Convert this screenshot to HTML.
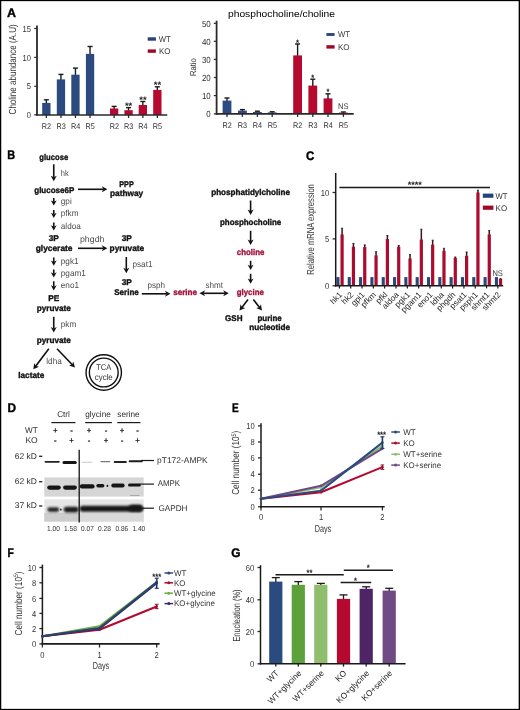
<!DOCTYPE html>
<html><head><meta charset="utf-8"><title>Figure</title>
<style>html,body{margin:0;padding:0;background:#fff}svg{display:block}text{font-family:"Liberation Sans",sans-serif;text-rendering:geometricPrecision}</style></head><body>
<svg width="520" height="710" viewBox="0 0 520 710">
<rect x="0" y="0" width="520" height="710" fill="#fff"/>
<text x="7.00" y="16.70" font-size="12.4" text-anchor="start" font-weight="bold" fill="#000" textLength="9.00" lengthAdjust="spacingAndGlyphs" stroke="#000" stroke-width="0.4">A</text>
<text x="16.20" y="69.40" font-size="10.2" text-anchor="middle" fill="#333" textLength="90.00" lengthAdjust="spacingAndGlyphs" transform="rotate(-90 16.20 69.40)">Choline abundance (A.U)</text>
<line x1="34.20" y1="28.50" x2="37.00" y2="28.50" stroke="#2a2a2a" stroke-width="1.2"/>
<text x="31.00" y="31.60" font-size="8.6" text-anchor="end" fill="#333" textLength="8.42" lengthAdjust="spacingAndGlyphs">15</text>
<line x1="34.20" y1="57.40" x2="37.00" y2="57.40" stroke="#2a2a2a" stroke-width="1.2"/>
<text x="31.00" y="60.50" font-size="8.6" text-anchor="end" fill="#333" textLength="8.42" lengthAdjust="spacingAndGlyphs">10</text>
<line x1="34.20" y1="86.30" x2="37.00" y2="86.30" stroke="#2a2a2a" stroke-width="1.2"/>
<text x="31.00" y="89.40" font-size="8.6" text-anchor="end" fill="#333" textLength="4.21" lengthAdjust="spacingAndGlyphs">5</text>
<line x1="34.20" y1="114.80" x2="37.00" y2="114.80" stroke="#2a2a2a" stroke-width="1.2"/>
<text x="31.00" y="117.90" font-size="8.6" text-anchor="end" fill="#333" textLength="4.21" lengthAdjust="spacingAndGlyphs">0</text>
<line x1="46.35" y1="99.80" x2="46.35" y2="103.40" stroke="#1a1a1a" stroke-width="1.4"/>
<line x1="43.85" y1="99.80" x2="48.85" y2="99.80" stroke="#1a1a1a" stroke-width="1.4"/>
<rect x="42.20" y="102.90" width="8.30" height="12.10" fill="#2b4a80"/>
<line x1="46.35" y1="115.00" x2="46.35" y2="118.00" stroke="#2a2a2a" stroke-width="1.3"/>
<text x="46.50" y="128.50" font-size="8.2" text-anchor="middle" fill="#333" textLength="9.30" lengthAdjust="spacingAndGlyphs">R2</text>
<line x1="60.95" y1="74.40" x2="60.95" y2="79.90" stroke="#1a1a1a" stroke-width="1.4"/>
<line x1="58.45" y1="74.40" x2="63.45" y2="74.40" stroke="#1a1a1a" stroke-width="1.4"/>
<rect x="56.80" y="79.40" width="8.30" height="35.60" fill="#2b4a80"/>
<line x1="60.95" y1="115.00" x2="60.95" y2="118.00" stroke="#2a2a2a" stroke-width="1.3"/>
<text x="61.10" y="128.50" font-size="8.2" text-anchor="middle" fill="#333" textLength="9.30" lengthAdjust="spacingAndGlyphs">R3</text>
<line x1="75.45" y1="68.10" x2="75.45" y2="75.20" stroke="#1a1a1a" stroke-width="1.4"/>
<line x1="72.95" y1="68.10" x2="77.95" y2="68.10" stroke="#1a1a1a" stroke-width="1.4"/>
<rect x="71.30" y="74.70" width="8.30" height="40.30" fill="#2b4a80"/>
<line x1="75.45" y1="115.00" x2="75.45" y2="118.00" stroke="#2a2a2a" stroke-width="1.3"/>
<text x="75.60" y="128.50" font-size="8.2" text-anchor="middle" fill="#333" textLength="9.30" lengthAdjust="spacingAndGlyphs">R4</text>
<line x1="90.05" y1="46.50" x2="90.05" y2="54.40" stroke="#1a1a1a" stroke-width="1.4"/>
<line x1="87.55" y1="46.50" x2="92.55" y2="46.50" stroke="#1a1a1a" stroke-width="1.4"/>
<rect x="85.90" y="53.90" width="8.30" height="61.10" fill="#2b4a80"/>
<line x1="90.05" y1="115.00" x2="90.05" y2="118.00" stroke="#2a2a2a" stroke-width="1.3"/>
<text x="90.20" y="128.50" font-size="8.2" text-anchor="middle" fill="#333" textLength="9.30" lengthAdjust="spacingAndGlyphs">R5</text>
<line x1="114.15" y1="106.40" x2="114.15" y2="109.00" stroke="#1a1a1a" stroke-width="1.4"/>
<line x1="111.65" y1="106.40" x2="116.65" y2="106.40" stroke="#1a1a1a" stroke-width="1.4"/>
<rect x="110.00" y="108.50" width="8.30" height="6.50" fill="#b5092f"/>
<line x1="114.15" y1="115.00" x2="114.15" y2="118.00" stroke="#2a2a2a" stroke-width="1.3"/>
<text x="114.30" y="128.50" font-size="8.2" text-anchor="middle" fill="#333" textLength="9.30" lengthAdjust="spacingAndGlyphs">R2</text>
<line x1="128.55" y1="107.60" x2="128.55" y2="110.70" stroke="#1a1a1a" stroke-width="1.4"/>
<line x1="126.05" y1="107.60" x2="131.05" y2="107.60" stroke="#1a1a1a" stroke-width="1.4"/>
<rect x="124.40" y="110.20" width="8.30" height="4.80" fill="#b5092f"/>
<line x1="128.55" y1="115.00" x2="128.55" y2="118.00" stroke="#2a2a2a" stroke-width="1.3"/>
<text x="128.70" y="128.50" font-size="8.2" text-anchor="middle" fill="#333" textLength="9.30" lengthAdjust="spacingAndGlyphs">R3</text>
<line x1="142.85" y1="101.50" x2="142.85" y2="105.50" stroke="#1a1a1a" stroke-width="1.4"/>
<line x1="140.35" y1="101.50" x2="145.35" y2="101.50" stroke="#1a1a1a" stroke-width="1.4"/>
<rect x="138.70" y="105.00" width="8.30" height="10.00" fill="#b5092f"/>
<line x1="142.85" y1="115.00" x2="142.85" y2="118.00" stroke="#2a2a2a" stroke-width="1.3"/>
<text x="143.00" y="128.50" font-size="8.2" text-anchor="middle" fill="#333" textLength="9.30" lengthAdjust="spacingAndGlyphs">R4</text>
<line x1="157.35" y1="86.80" x2="157.35" y2="90.40" stroke="#1a1a1a" stroke-width="1.4"/>
<line x1="154.85" y1="86.80" x2="159.85" y2="86.80" stroke="#1a1a1a" stroke-width="1.4"/>
<rect x="153.20" y="89.90" width="8.30" height="25.10" fill="#b5092f"/>
<line x1="157.35" y1="115.00" x2="157.35" y2="118.00" stroke="#2a2a2a" stroke-width="1.3"/>
<text x="157.50" y="128.50" font-size="8.2" text-anchor="middle" fill="#333" textLength="9.30" lengthAdjust="spacingAndGlyphs">R5</text>
<text x="128.60" y="108.90" font-size="9.5" text-anchor="middle" font-weight="bold" fill="#231a26" textLength="7.40" lengthAdjust="spacingAndGlyphs">**</text>
<text x="142.90" y="102.90" font-size="9.5" text-anchor="middle" font-weight="bold" fill="#231a26" textLength="7.40" lengthAdjust="spacingAndGlyphs">**</text>
<text x="157.40" y="87.90" font-size="9.5" text-anchor="middle" font-weight="bold" fill="#231a26" textLength="7.40" lengthAdjust="spacingAndGlyphs">**</text>
<line x1="37.00" y1="25.60" x2="37.00" y2="115.80" stroke="#2a2a2a" stroke-width="1.8"/>
<line x1="36.30" y1="115.00" x2="167.30" y2="115.00" stroke="#2a2a2a" stroke-width="1.6"/>
<rect x="147.70" y="37.30" width="8.20" height="3.40" fill="#25427a"/>
<text x="158.80" y="41.80" font-size="8.2" text-anchor="start" fill="#333" textLength="12.00" lengthAdjust="spacingAndGlyphs">WT</text>
<rect x="147.70" y="49.40" width="8.20" height="3.40" fill="#a00829"/>
<text x="159.00" y="53.90" font-size="8.2" text-anchor="start" fill="#333" textLength="11.60" lengthAdjust="spacingAndGlyphs">KO</text>
<text x="228.00" y="16.60" font-size="9.4" text-anchor="start" textLength="107.00" lengthAdjust="spacingAndGlyphs">phosphocholine/choline</text>
<text x="195.80" y="67.20" font-size="8.6" text-anchor="middle" fill="#333" textLength="17.80" lengthAdjust="spacingAndGlyphs" transform="rotate(-90 195.80 67.20)">Ratio</text>
<line x1="213.80" y1="23.30" x2="216.50" y2="23.30" stroke="#2a2a2a" stroke-width="1.2"/>
<text x="210.70" y="26.50" font-size="8.8" text-anchor="end" fill="#2a2a2a" textLength="8.81" lengthAdjust="spacingAndGlyphs">50</text>
<line x1="213.80" y1="41.30" x2="216.50" y2="41.30" stroke="#2a2a2a" stroke-width="1.2"/>
<text x="210.70" y="44.50" font-size="8.8" text-anchor="end" fill="#2a2a2a" textLength="8.81" lengthAdjust="spacingAndGlyphs">40</text>
<line x1="213.80" y1="59.40" x2="216.50" y2="59.40" stroke="#2a2a2a" stroke-width="1.2"/>
<text x="210.70" y="62.60" font-size="8.8" text-anchor="end" fill="#2a2a2a" textLength="8.81" lengthAdjust="spacingAndGlyphs">30</text>
<line x1="213.80" y1="77.50" x2="216.50" y2="77.50" stroke="#2a2a2a" stroke-width="1.2"/>
<text x="210.70" y="80.70" font-size="8.8" text-anchor="end" fill="#2a2a2a" textLength="8.81" lengthAdjust="spacingAndGlyphs">20</text>
<line x1="213.80" y1="95.60" x2="216.50" y2="95.60" stroke="#2a2a2a" stroke-width="1.2"/>
<text x="210.70" y="98.80" font-size="8.8" text-anchor="end" fill="#2a2a2a" textLength="8.81" lengthAdjust="spacingAndGlyphs">10</text>
<line x1="213.80" y1="113.90" x2="216.50" y2="113.90" stroke="#2a2a2a" stroke-width="1.2"/>
<text x="210.70" y="117.10" font-size="8.8" text-anchor="end" fill="#2a2a2a" textLength="4.40" lengthAdjust="spacingAndGlyphs">0</text>
<line x1="227.00" y1="98.00" x2="227.00" y2="101.10" stroke="#1a1a1a" stroke-width="1.4"/>
<line x1="224.50" y1="98.00" x2="229.50" y2="98.00" stroke="#1a1a1a" stroke-width="1.4"/>
<rect x="222.60" y="100.60" width="8.80" height="13.30" fill="#2b4a80"/>
<line x1="227.00" y1="113.90" x2="227.00" y2="116.90" stroke="#2a2a2a" stroke-width="1.3"/>
<text x="227.10" y="128.40" font-size="8.2" text-anchor="middle" fill="#333" textLength="9.30" lengthAdjust="spacingAndGlyphs">R2</text>
<line x1="242.40" y1="109.60" x2="242.40" y2="111.10" stroke="#1a1a1a" stroke-width="1.4"/>
<line x1="239.90" y1="109.60" x2="244.90" y2="109.60" stroke="#1a1a1a" stroke-width="1.4"/>
<rect x="238.00" y="110.60" width="8.80" height="3.30" fill="#2b4a80"/>
<line x1="242.40" y1="113.90" x2="242.40" y2="116.90" stroke="#2a2a2a" stroke-width="1.3"/>
<text x="242.50" y="128.40" font-size="8.2" text-anchor="middle" fill="#333" textLength="9.30" lengthAdjust="spacingAndGlyphs">R3</text>
<line x1="257.40" y1="111.20" x2="257.40" y2="112.50" stroke="#1a1a1a" stroke-width="1.4"/>
<line x1="254.90" y1="111.20" x2="259.90" y2="111.20" stroke="#1a1a1a" stroke-width="1.4"/>
<rect x="253.00" y="112.00" width="8.80" height="1.90" fill="#2b4a80"/>
<line x1="257.40" y1="113.90" x2="257.40" y2="116.90" stroke="#2a2a2a" stroke-width="1.3"/>
<text x="257.50" y="128.40" font-size="8.2" text-anchor="middle" fill="#333" textLength="9.30" lengthAdjust="spacingAndGlyphs">R4</text>
<line x1="272.20" y1="111.80" x2="272.20" y2="112.90" stroke="#1a1a1a" stroke-width="1.4"/>
<line x1="269.70" y1="111.80" x2="274.70" y2="111.80" stroke="#1a1a1a" stroke-width="1.4"/>
<rect x="267.80" y="112.40" width="8.80" height="1.50" fill="#2b4a80"/>
<line x1="272.20" y1="113.90" x2="272.20" y2="116.90" stroke="#2a2a2a" stroke-width="1.3"/>
<text x="272.30" y="128.40" font-size="8.2" text-anchor="middle" fill="#333" textLength="9.30" lengthAdjust="spacingAndGlyphs">R5</text>
<line x1="297.60" y1="44.00" x2="297.60" y2="55.90" stroke="#1a1a1a" stroke-width="1.4"/>
<line x1="295.10" y1="44.00" x2="300.10" y2="44.00" stroke="#1a1a1a" stroke-width="1.4"/>
<rect x="293.20" y="55.40" width="8.80" height="58.50" fill="#b5092f"/>
<line x1="297.60" y1="113.90" x2="297.60" y2="116.90" stroke="#2a2a2a" stroke-width="1.3"/>
<text x="297.70" y="128.40" font-size="8.2" text-anchor="middle" fill="#333" textLength="9.30" lengthAdjust="spacingAndGlyphs">R2</text>
<line x1="312.80" y1="79.20" x2="312.80" y2="86.10" stroke="#1a1a1a" stroke-width="1.4"/>
<line x1="310.30" y1="79.20" x2="315.30" y2="79.20" stroke="#1a1a1a" stroke-width="1.4"/>
<rect x="308.40" y="85.60" width="8.80" height="28.30" fill="#b5092f"/>
<line x1="312.80" y1="113.90" x2="312.80" y2="116.90" stroke="#2a2a2a" stroke-width="1.3"/>
<text x="312.90" y="128.40" font-size="8.2" text-anchor="middle" fill="#333" textLength="9.30" lengthAdjust="spacingAndGlyphs">R3</text>
<line x1="328.00" y1="93.80" x2="328.00" y2="98.90" stroke="#1a1a1a" stroke-width="1.4"/>
<line x1="325.50" y1="93.80" x2="330.50" y2="93.80" stroke="#1a1a1a" stroke-width="1.4"/>
<rect x="323.60" y="98.40" width="8.80" height="15.50" fill="#b5092f"/>
<line x1="328.00" y1="113.90" x2="328.00" y2="116.90" stroke="#2a2a2a" stroke-width="1.3"/>
<text x="328.10" y="128.40" font-size="8.2" text-anchor="middle" fill="#333" textLength="9.30" lengthAdjust="spacingAndGlyphs">R4</text>
<line x1="343.40" y1="112.00" x2="343.40" y2="113.10" stroke="#1a1a1a" stroke-width="1.4"/>
<line x1="340.90" y1="112.00" x2="345.90" y2="112.00" stroke="#1a1a1a" stroke-width="1.4"/>
<rect x="339.00" y="112.60" width="8.80" height="1.30" fill="#b5092f"/>
<line x1="343.40" y1="113.90" x2="343.40" y2="116.90" stroke="#2a2a2a" stroke-width="1.3"/>
<text x="343.50" y="128.40" font-size="8.2" text-anchor="middle" fill="#333" textLength="9.30" lengthAdjust="spacingAndGlyphs">R5</text>
<text x="297.60" y="45.70" font-size="9.5" text-anchor="middle" font-weight="bold" fill="#231a26" textLength="2.96" lengthAdjust="spacingAndGlyphs">*</text>
<text x="312.80" y="80.70" font-size="9.5" text-anchor="middle" font-weight="bold" fill="#231a26" textLength="2.96" lengthAdjust="spacingAndGlyphs">*</text>
<text x="328.00" y="95.40" font-size="9.5" text-anchor="middle" font-weight="bold" fill="#231a26" textLength="2.96" lengthAdjust="spacingAndGlyphs">*</text>
<text x="343.20" y="108.90" font-size="8.2" text-anchor="middle" fill="#333" textLength="10.40" lengthAdjust="spacingAndGlyphs">NS</text>
<line x1="216.60" y1="20.70" x2="216.60" y2="114.70" stroke="#2a2a2a" stroke-width="1.8"/>
<line x1="215.80" y1="113.90" x2="353.70" y2="113.90" stroke="#2a2a2a" stroke-width="1.6"/>
<rect x="326.40" y="33.10" width="8.20" height="2.80" fill="#25427a"/>
<text x="337.90" y="37.00" font-size="8.2" text-anchor="start" fill="#333" textLength="12.00" lengthAdjust="spacingAndGlyphs">WT</text>
<rect x="326.40" y="45.20" width="8.20" height="3.40" fill="#a00829"/>
<text x="338.00" y="49.50" font-size="8.2" text-anchor="start" fill="#333" textLength="11.60" lengthAdjust="spacingAndGlyphs">KO</text>
<text x="7.20" y="159.40" font-size="12.4" text-anchor="start" font-weight="bold" fill="#000" textLength="7.90" lengthAdjust="spacingAndGlyphs" stroke="#000" stroke-width="0.4">B</text>
<text x="53.75" y="159.50" font-size="8.3" text-anchor="middle" font-weight="bold" fill="#111" textLength="28.80" lengthAdjust="spacingAndGlyphs" stroke="#111" stroke-width="0.35">glucose</text>
<line x1="53.75" y1="164.30" x2="53.75" y2="177.38" stroke="#111" stroke-width="1.6"/>
<path d="M53.75 181.30 L50.75 175.70 L53.75 177.27 L56.75 175.70 Z" fill="#111"/>
<text x="60.80" y="175.50" font-size="8.6" text-anchor="start" fill="#4c4c4c" textLength="7.90" lengthAdjust="spacingAndGlyphs">hk</text>
<text x="54.25" y="192.50" font-size="8.3" text-anchor="middle" font-weight="bold" fill="#111" textLength="40.00" lengthAdjust="spacingAndGlyphs" stroke="#111" stroke-width="0.35">glucose6P</text>
<line x1="78.00" y1="189.30" x2="103.48" y2="189.30" stroke="#111" stroke-width="1.6"/>
<path d="M107.40 189.30 L101.80 192.30 L103.37 189.30 L101.80 186.30 Z" fill="#111"/>
<text x="126.50" y="186.80" font-size="8.3" text-anchor="middle" font-weight="bold" fill="#111" textLength="14.50" lengthAdjust="spacingAndGlyphs" stroke="#111" stroke-width="0.35">PPP</text>
<text x="126.60" y="196.30" font-size="8.3" text-anchor="middle" font-weight="bold" fill="#111" textLength="33.20" lengthAdjust="spacingAndGlyphs" stroke="#111" stroke-width="0.35">pathway</text>
<line x1="53.75" y1="198.00" x2="53.75" y2="201.96" stroke="#111" stroke-width="1.6"/>
<path d="M53.75 205.60 L50.85 200.40 L53.75 201.86 L56.65 200.40 Z" fill="#111"/>
<text x="60.80" y="204.30" font-size="8.6" text-anchor="start" fill="#4c4c4c" textLength="10.90" lengthAdjust="spacingAndGlyphs">gpi</text>
<line x1="53.75" y1="210.00" x2="53.75" y2="214.36" stroke="#111" stroke-width="1.6"/>
<path d="M53.75 218.00 L50.85 212.80 L53.75 214.26 L56.65 212.80 Z" fill="#111"/>
<text x="60.80" y="216.30" font-size="8.6" text-anchor="start" fill="#4c4c4c" textLength="17.70" lengthAdjust="spacingAndGlyphs">pfkm</text>
<line x1="53.75" y1="222.50" x2="53.75" y2="226.86" stroke="#111" stroke-width="1.6"/>
<path d="M53.75 230.50 L50.85 225.30 L53.75 226.76 L56.65 225.30 Z" fill="#111"/>
<text x="60.80" y="228.80" font-size="8.6" text-anchor="start" fill="#4c4c4c" textLength="19.99" lengthAdjust="spacingAndGlyphs">aldoa</text>
<text x="53.75" y="240.80" font-size="8.3" text-anchor="middle" font-weight="bold" fill="#111" stroke="#111" stroke-width="0.35">3P</text>
<text x="54.10" y="250.80" font-size="8.3" text-anchor="middle" font-weight="bold" fill="#111" textLength="36.80" lengthAdjust="spacingAndGlyphs" stroke="#111" stroke-width="0.35">glycerate</text>
<line x1="78.00" y1="248.30" x2="103.48" y2="248.30" stroke="#111" stroke-width="1.6"/>
<path d="M107.40 248.30 L101.80 251.30 L103.37 248.30 L101.80 245.30 Z" fill="#111"/>
<text x="92.20" y="242.00" font-size="8.6" text-anchor="middle" fill="#4c4c4c" textLength="24.50" lengthAdjust="spacingAndGlyphs">phgdh</text>
<text x="126.80" y="241.30" font-size="8.3" text-anchor="middle" font-weight="bold" fill="#111" stroke="#111" stroke-width="0.35">3P</text>
<text x="126.90" y="250.80" font-size="8.3" text-anchor="middle" font-weight="bold" fill="#111" textLength="34.60" lengthAdjust="spacingAndGlyphs" stroke="#111" stroke-width="0.35">pyruvate</text>
<line x1="126.30" y1="257.00" x2="126.30" y2="269.38" stroke="#111" stroke-width="1.6"/>
<path d="M126.30 273.30 L123.30 267.70 L126.30 269.27 L129.30 267.70 Z" fill="#111"/>
<text x="132.50" y="267.00" font-size="8.6" text-anchor="start" fill="#4c4c4c" textLength="19.98" lengthAdjust="spacingAndGlyphs">psat1</text>
<line x1="53.75" y1="257.50" x2="53.75" y2="262.16" stroke="#111" stroke-width="1.6"/>
<path d="M53.75 265.80 L50.85 260.60 L53.75 262.06 L56.65 260.60 Z" fill="#111"/>
<text x="60.80" y="264.30" font-size="8.6" text-anchor="start" fill="#4c4c4c" textLength="17.71" lengthAdjust="spacingAndGlyphs">pgk1</text>
<line x1="53.75" y1="269.50" x2="53.75" y2="273.86" stroke="#111" stroke-width="1.6"/>
<path d="M53.75 277.50 L50.85 272.30 L53.75 273.76 L56.65 272.30 Z" fill="#111"/>
<text x="60.80" y="276.30" font-size="8.6" text-anchor="start" fill="#4c4c4c" textLength="24.98" lengthAdjust="spacingAndGlyphs">pgam1</text>
<line x1="53.75" y1="281.30" x2="53.75" y2="286.86" stroke="#111" stroke-width="1.6"/>
<path d="M53.75 290.50 L50.85 285.30 L53.75 286.76 L56.65 285.30 Z" fill="#111"/>
<text x="60.80" y="288.30" font-size="8.6" text-anchor="start" fill="#4c4c4c" textLength="18.17" lengthAdjust="spacingAndGlyphs">eno1</text>
<text x="53.75" y="300.80" font-size="8.3" text-anchor="middle" font-weight="bold" fill="#111" stroke="#111" stroke-width="0.35">PE</text>
<text x="53.75" y="311.30" font-size="8.3" text-anchor="middle" font-weight="bold" fill="#111" textLength="34.00" lengthAdjust="spacingAndGlyphs" stroke="#111" stroke-width="0.35">pyruvate</text>
<line x1="53.75" y1="316.80" x2="53.75" y2="328.58" stroke="#111" stroke-width="1.6"/>
<path d="M53.75 332.50 L50.75 326.90 L53.75 328.47 L56.75 326.90 Z" fill="#111"/>
<text x="60.80" y="327.00" font-size="8.6" text-anchor="start" fill="#4c4c4c" textLength="15.43" lengthAdjust="spacingAndGlyphs">pkm</text>
<text x="53.75" y="343.30" font-size="8.3" text-anchor="middle" font-weight="bold" fill="#111" textLength="34.00" lengthAdjust="spacingAndGlyphs" stroke="#111" stroke-width="0.35">pyruvate</text>
<line x1="48.80" y1="348.80" x2="35.66" y2="366.17" stroke="#111" stroke-width="1.6"/>
<path d="M33.30 369.30 L34.28 363.02 L35.73 366.08 L39.07 366.64 Z" fill="#111"/>
<line x1="57.00" y1="348.80" x2="72.28" y2="364.68" stroke="#111" stroke-width="1.6"/>
<path d="M75.00 367.50 L68.96 365.55 L72.20 364.60 L73.28 361.38 Z" fill="#111"/>
<text x="54.00" y="364.00" font-size="8.6" text-anchor="middle" fill="#4c4c4c" textLength="15.50" lengthAdjust="spacingAndGlyphs">ldha</text>
<text x="31.25" y="377.50" font-size="8.3" text-anchor="middle" font-weight="bold" fill="#111" textLength="26.00" lengthAdjust="spacingAndGlyphs" stroke="#111" stroke-width="0.35">lactate</text>
<circle cx="103.75" cy="372.5" r="17.7" fill="none" stroke="#111" stroke-width="1.4"/><circle cx="103.75" cy="372.5" r="14.4" fill="none" stroke="#111" stroke-width="1.4"/>
<text x="103.75" y="370.20" font-size="8.4" text-anchor="middle" fill="#333" textLength="15.00" lengthAdjust="spacingAndGlyphs">TCA</text>
<text x="103.75" y="380.20" font-size="8.4" text-anchor="middle" fill="#333" textLength="18.00" lengthAdjust="spacingAndGlyphs">cycle</text>
<text x="126.80" y="285.00" font-size="8.3" text-anchor="middle" font-weight="bold" fill="#111" stroke="#111" stroke-width="0.35">3P</text>
<text x="126.50" y="295.00" font-size="8.3" text-anchor="middle" font-weight="bold" fill="#111" textLength="24.50" lengthAdjust="spacingAndGlyphs" stroke="#111" stroke-width="0.35">Serine</text>
<line x1="141.80" y1="293.80" x2="166.58" y2="293.80" stroke="#111" stroke-width="1.6"/>
<path d="M170.50 293.80 L164.90 296.80 L166.47 293.80 L164.90 290.80 Z" fill="#111"/>
<text x="156.30" y="288.00" font-size="8.6" text-anchor="middle" fill="#4c4c4c" textLength="17.50" lengthAdjust="spacingAndGlyphs">psph</text>
<text x="185.10" y="295.00" font-size="8.3" text-anchor="middle" font-weight="bold" fill="#a3123a" textLength="23.80" lengthAdjust="spacingAndGlyphs" stroke="#a3123a" stroke-width="0.35">serine</text>
<line x1="203.42" y1="293.30" x2="224.88" y2="293.30" stroke="#111" stroke-width="1.6"/>
<path d="M228.80 293.30 L223.20 296.30 L224.77 293.30 L223.20 290.30 Z" fill="#111"/>
<path d="M199.50 293.30 L205.10 296.30 L203.53 293.30 L205.10 290.30 Z" fill="#111"/>
<text x="214.30" y="287.50" font-size="8.6" text-anchor="middle" fill="#4c4c4c" textLength="17.50" lengthAdjust="spacingAndGlyphs">shmt</text>
<text x="250.60" y="195.40" font-size="8.3" text-anchor="middle" font-weight="bold" fill="#111" textLength="78.80" lengthAdjust="spacingAndGlyphs" stroke="#111" stroke-width="0.35">phosphatidylcholine</text>
<line x1="250.60" y1="200.50" x2="250.60" y2="211.08" stroke="#111" stroke-width="1.6"/>
<path d="M250.60 215.00 L247.60 209.40 L250.60 210.97 L253.60 209.40 Z" fill="#111"/>
<text x="250.60" y="225.00" font-size="8.3" text-anchor="middle" font-weight="bold" fill="#111" textLength="61.30" lengthAdjust="spacingAndGlyphs" stroke="#111" stroke-width="0.35">phosphocholine</text>
<line x1="250.60" y1="230.80" x2="250.60" y2="241.08" stroke="#111" stroke-width="1.6"/>
<path d="M250.60 245.00 L247.60 239.40 L250.60 240.97 L253.60 239.40 Z" fill="#111"/>
<text x="250.60" y="255.00" font-size="8.3" text-anchor="middle" font-weight="bold" fill="#a3123a" textLength="27.50" lengthAdjust="spacingAndGlyphs" stroke="#a3123a" stroke-width="0.35">choline</text>
<line x1="250.60" y1="260.80" x2="250.60" y2="266.36" stroke="#111" stroke-width="1.6"/>
<path d="M250.60 270.00 L247.70 264.80 L250.60 266.26 L253.50 264.80 Z" fill="#111"/>
<line x1="250.60" y1="273.80" x2="250.60" y2="280.16" stroke="#111" stroke-width="1.6"/>
<path d="M250.60 283.80 L247.70 278.60 L250.60 280.06 L253.50 278.60 Z" fill="#111"/>
<text x="250.30" y="295.00" font-size="8.3" text-anchor="middle" font-weight="bold" fill="#a3123a" textLength="27.00" lengthAdjust="spacingAndGlyphs" stroke="#a3123a" stroke-width="0.35">glycine</text>
<line x1="248.00" y1="299.50" x2="241.90" y2="307.40" stroke="#111" stroke-width="1.6"/>
<path d="M239.50 310.50 L240.55 304.23 L241.97 307.31 L245.30 307.90 Z" fill="#111"/>
<line x1="253.30" y1="299.50" x2="259.57" y2="307.43" stroke="#111" stroke-width="1.6"/>
<path d="M262.00 310.50 L256.17 307.97 L259.50 307.34 L260.88 304.25 Z" fill="#111"/>
<text x="233.80" y="321.30" font-size="8.3" text-anchor="middle" font-weight="bold" fill="#111" textLength="17.50" lengthAdjust="spacingAndGlyphs" stroke="#111" stroke-width="0.35">GSH</text>
<text x="269.60" y="321.30" font-size="8.3" text-anchor="middle" font-weight="bold" fill="#111" textLength="24.30" lengthAdjust="spacingAndGlyphs" stroke="#111" stroke-width="0.35">purine</text>
<text x="269.60" y="330.00" font-size="8.3" text-anchor="middle" font-weight="bold" fill="#111" textLength="40.80" lengthAdjust="spacingAndGlyphs" stroke="#111" stroke-width="0.35">nucleotide</text>
<text x="306.00" y="159.90" font-size="12.4" text-anchor="start" font-weight="bold" fill="#000" textLength="8.30" lengthAdjust="spacingAndGlyphs" stroke="#000" stroke-width="0.4">C</text>
<text x="314.30" y="229.40" font-size="10.2" text-anchor="middle" fill="#333" textLength="90.50" lengthAdjust="spacingAndGlyphs" transform="rotate(-90 314.30 229.40)">Relative mRNA expression</text>
<line x1="332.60" y1="192.50" x2="335.70" y2="192.50" stroke="#2a2a2a" stroke-width="1.3"/>
<text x="329.10" y="195.60" font-size="8.6" text-anchor="end" fill="#333" textLength="8.42" lengthAdjust="spacingAndGlyphs">10</text>
<line x1="332.60" y1="238.90" x2="335.70" y2="238.90" stroke="#2a2a2a" stroke-width="1.3"/>
<text x="329.10" y="242.00" font-size="8.6" text-anchor="end" fill="#333" textLength="4.21" lengthAdjust="spacingAndGlyphs">5</text>
<line x1="332.60" y1="285.80" x2="335.70" y2="285.80" stroke="#2a2a2a" stroke-width="1.3"/>
<text x="329.10" y="288.90" font-size="8.6" text-anchor="end" fill="#333" textLength="4.21" lengthAdjust="spacingAndGlyphs">0</text>
<rect x="336.40" y="277.10" width="3.10" height="8.70" fill="#2d4775"/>
<line x1="342.10" y1="228.20" x2="342.10" y2="234.90" stroke="#2a1a22" stroke-width="1.5"/>
<line x1="341.10" y1="228.20" x2="343.10" y2="228.20" stroke="#2a1a22" stroke-width="0.9"/>
<rect x="340.50" y="234.40" width="3.20" height="51.40" fill="#ab0b2e"/>
<line x1="339.40" y1="285.80" x2="339.40" y2="288.40" stroke="#1a1a1a" stroke-width="1.2"/>
<text x="342.70" y="295.40" font-size="8.4" text-anchor="end" fill="#1c1c1c" textLength="13.14" lengthAdjust="spacingAndGlyphs" transform="rotate(-45 342.70 295.40)">hk1</text>
<rect x="347.72" y="277.10" width="3.10" height="8.70" fill="#2d4775"/>
<line x1="353.42" y1="243.40" x2="353.42" y2="247.30" stroke="#2a1a22" stroke-width="1.5"/>
<line x1="352.42" y1="243.40" x2="354.42" y2="243.40" stroke="#2a1a22" stroke-width="0.9"/>
<rect x="351.82" y="246.80" width="3.20" height="39.00" fill="#ab0b2e"/>
<line x1="350.72" y1="285.80" x2="350.72" y2="288.40" stroke="#1a1a1a" stroke-width="1.2"/>
<text x="354.02" y="295.40" font-size="8.4" text-anchor="end" fill="#1c1c1c" textLength="13.14" lengthAdjust="spacingAndGlyphs" transform="rotate(-45 354.02 295.40)">hk2</text>
<rect x="359.04" y="277.10" width="3.10" height="8.70" fill="#2d4775"/>
<line x1="364.74" y1="244.90" x2="364.74" y2="247.60" stroke="#2a1a22" stroke-width="1.5"/>
<line x1="363.74" y1="244.90" x2="365.74" y2="244.90" stroke="#2a1a22" stroke-width="0.9"/>
<rect x="363.14" y="247.10" width="3.20" height="38.70" fill="#ab0b2e"/>
<line x1="362.04" y1="285.80" x2="362.04" y2="288.40" stroke="#1a1a1a" stroke-width="1.2"/>
<text x="365.34" y="295.40" font-size="8.4" text-anchor="end" fill="#1c1c1c" textLength="15.40" lengthAdjust="spacingAndGlyphs" transform="rotate(-45 365.34 295.40)">gpi1</text>
<rect x="370.36" y="277.10" width="3.10" height="8.70" fill="#2d4775"/>
<line x1="376.06" y1="251.70" x2="376.06" y2="255.80" stroke="#2a1a22" stroke-width="1.5"/>
<line x1="375.06" y1="251.70" x2="377.06" y2="251.70" stroke="#2a1a22" stroke-width="0.9"/>
<rect x="374.46" y="255.30" width="3.20" height="30.50" fill="#ab0b2e"/>
<line x1="373.36" y1="285.80" x2="373.36" y2="288.40" stroke="#1a1a1a" stroke-width="1.2"/>
<text x="376.66" y="295.40" font-size="8.4" text-anchor="end" fill="#1c1c1c" textLength="17.66" lengthAdjust="spacingAndGlyphs" transform="rotate(-45 376.66 295.40)">pfkm</text>
<rect x="381.68" y="277.10" width="3.10" height="8.70" fill="#2d4775"/>
<line x1="387.38" y1="235.50" x2="387.38" y2="239.50" stroke="#2a1a22" stroke-width="1.5"/>
<line x1="386.38" y1="235.50" x2="388.38" y2="235.50" stroke="#2a1a22" stroke-width="0.9"/>
<rect x="385.78" y="239.00" width="3.20" height="46.80" fill="#ab0b2e"/>
<line x1="384.68" y1="285.80" x2="384.68" y2="288.40" stroke="#1a1a1a" stroke-width="1.2"/>
<text x="387.98" y="295.40" font-size="8.4" text-anchor="end" fill="#1c1c1c" textLength="12.68" lengthAdjust="spacingAndGlyphs" transform="rotate(-45 387.98 295.40)">pfkl</text>
<rect x="393.00" y="277.10" width="3.10" height="8.70" fill="#2d4775"/>
<line x1="398.70" y1="245.50" x2="398.70" y2="247.30" stroke="#2a1a22" stroke-width="1.5"/>
<line x1="397.70" y1="245.50" x2="399.70" y2="245.50" stroke="#2a1a22" stroke-width="0.9"/>
<rect x="397.10" y="246.80" width="3.20" height="39.00" fill="#ab0b2e"/>
<line x1="396.00" y1="285.80" x2="396.00" y2="288.40" stroke="#1a1a1a" stroke-width="1.2"/>
<text x="399.30" y="295.40" font-size="8.4" text-anchor="end" fill="#1c1c1c" textLength="19.93" lengthAdjust="spacingAndGlyphs" transform="rotate(-45 399.30 295.40)">aldoa</text>
<rect x="404.32" y="277.10" width="3.10" height="8.70" fill="#2d4775"/>
<line x1="410.02" y1="254.60" x2="410.02" y2="258.90" stroke="#2a1a22" stroke-width="1.5"/>
<line x1="409.02" y1="254.60" x2="411.02" y2="254.60" stroke="#2a1a22" stroke-width="0.9"/>
<rect x="408.42" y="258.40" width="3.20" height="27.40" fill="#ab0b2e"/>
<line x1="407.32" y1="285.80" x2="407.32" y2="288.40" stroke="#1a1a1a" stroke-width="1.2"/>
<text x="410.62" y="295.40" font-size="8.4" text-anchor="end" fill="#1c1c1c" textLength="17.67" lengthAdjust="spacingAndGlyphs" transform="rotate(-45 410.62 295.40)">pgk1</text>
<rect x="415.64" y="277.10" width="3.10" height="8.70" fill="#2d4775"/>
<line x1="421.34" y1="229.20" x2="421.34" y2="240.10" stroke="#2a1a22" stroke-width="1.5"/>
<line x1="420.34" y1="229.20" x2="422.34" y2="229.20" stroke="#2a1a22" stroke-width="0.9"/>
<rect x="419.74" y="239.60" width="3.20" height="46.20" fill="#ab0b2e"/>
<line x1="418.64" y1="285.80" x2="418.64" y2="288.40" stroke="#1a1a1a" stroke-width="1.2"/>
<text x="421.94" y="295.40" font-size="8.4" text-anchor="end" fill="#1c1c1c" textLength="24.91" lengthAdjust="spacingAndGlyphs" transform="rotate(-45 421.94 295.40)">pgam1</text>
<rect x="426.96" y="277.10" width="3.10" height="8.70" fill="#2d4775"/>
<line x1="432.66" y1="240.20" x2="432.66" y2="245.20" stroke="#2a1a22" stroke-width="1.5"/>
<line x1="431.66" y1="240.20" x2="433.66" y2="240.20" stroke="#2a1a22" stroke-width="0.9"/>
<rect x="431.06" y="244.70" width="3.20" height="41.10" fill="#ab0b2e"/>
<line x1="429.96" y1="285.80" x2="429.96" y2="288.40" stroke="#1a1a1a" stroke-width="1.2"/>
<text x="433.26" y="295.40" font-size="8.4" text-anchor="end" fill="#1c1c1c" textLength="18.12" lengthAdjust="spacingAndGlyphs" transform="rotate(-45 433.26 295.40)">eno1</text>
<rect x="438.28" y="277.10" width="3.10" height="8.70" fill="#2d4775"/>
<line x1="443.98" y1="248.30" x2="443.98" y2="251.30" stroke="#2a1a22" stroke-width="1.5"/>
<line x1="442.98" y1="248.30" x2="444.98" y2="248.30" stroke="#2a1a22" stroke-width="0.9"/>
<rect x="442.38" y="250.80" width="3.20" height="35.00" fill="#ab0b2e"/>
<line x1="441.28" y1="285.80" x2="441.28" y2="288.40" stroke="#1a1a1a" stroke-width="1.2"/>
<text x="444.58" y="295.40" font-size="8.4" text-anchor="end" fill="#1c1c1c" textLength="15.40" lengthAdjust="spacingAndGlyphs" transform="rotate(-45 444.58 295.40)">ldha</text>
<rect x="449.60" y="277.10" width="3.10" height="8.70" fill="#2d4775"/>
<line x1="455.30" y1="257.00" x2="455.30" y2="258.40" stroke="#2a1a22" stroke-width="1.5"/>
<line x1="454.30" y1="257.00" x2="456.30" y2="257.00" stroke="#2a1a22" stroke-width="0.9"/>
<rect x="453.70" y="257.90" width="3.20" height="27.90" fill="#ab0b2e"/>
<line x1="452.60" y1="285.80" x2="452.60" y2="288.40" stroke="#1a1a1a" stroke-width="1.2"/>
<text x="455.90" y="295.40" font-size="8.4" text-anchor="end" fill="#1c1c1c" textLength="22.66" lengthAdjust="spacingAndGlyphs" transform="rotate(-45 455.90 295.40)">phgdh</text>
<rect x="460.92" y="277.10" width="3.10" height="8.70" fill="#2d4775"/>
<line x1="466.62" y1="252.00" x2="466.62" y2="256.40" stroke="#2a1a22" stroke-width="1.5"/>
<line x1="465.62" y1="252.00" x2="467.62" y2="252.00" stroke="#2a1a22" stroke-width="0.9"/>
<rect x="465.02" y="255.90" width="3.20" height="29.90" fill="#ab0b2e"/>
<line x1="463.92" y1="285.80" x2="463.92" y2="288.40" stroke="#1a1a1a" stroke-width="1.2"/>
<text x="467.22" y="295.40" font-size="8.4" text-anchor="end" fill="#1c1c1c" textLength="19.93" lengthAdjust="spacingAndGlyphs" transform="rotate(-45 467.22 295.40)">psat1</text>
<rect x="472.24" y="277.10" width="3.10" height="8.70" fill="#2d4775"/>
<line x1="477.94" y1="190.20" x2="477.94" y2="193.00" stroke="#2a1a22" stroke-width="1.5"/>
<line x1="476.94" y1="190.20" x2="478.94" y2="190.20" stroke="#2a1a22" stroke-width="0.9"/>
<rect x="476.34" y="192.50" width="3.20" height="93.30" fill="#ab0b2e"/>
<line x1="475.24" y1="285.80" x2="475.24" y2="288.40" stroke="#1a1a1a" stroke-width="1.2"/>
<text x="478.54" y="295.40" font-size="8.4" text-anchor="end" fill="#1c1c1c" textLength="22.20" lengthAdjust="spacingAndGlyphs" transform="rotate(-45 478.54 295.40)">psph1</text>
<rect x="483.56" y="277.10" width="3.10" height="8.70" fill="#2d4775"/>
<line x1="489.26" y1="230.50" x2="489.26" y2="234.80" stroke="#2a1a22" stroke-width="1.5"/>
<line x1="488.26" y1="230.50" x2="490.26" y2="230.50" stroke="#2a1a22" stroke-width="0.9"/>
<rect x="487.66" y="234.30" width="3.20" height="51.50" fill="#ab0b2e"/>
<line x1="486.56" y1="285.80" x2="486.56" y2="288.40" stroke="#1a1a1a" stroke-width="1.2"/>
<text x="489.86" y="295.40" font-size="8.4" text-anchor="end" fill="#1c1c1c" textLength="22.19" lengthAdjust="spacingAndGlyphs" transform="rotate(-45 489.86 295.40)">shmt1</text>
<rect x="494.88" y="277.10" width="3.10" height="8.70" fill="#2d4775"/>
<line x1="500.58" y1="278.60" x2="500.58" y2="279.50" stroke="#2a1a22" stroke-width="1.5"/>
<line x1="499.58" y1="278.60" x2="501.58" y2="278.60" stroke="#2a1a22" stroke-width="0.9"/>
<rect x="498.98" y="279.00" width="3.20" height="6.80" fill="#ab0b2e"/>
<line x1="497.88" y1="285.80" x2="497.88" y2="288.40" stroke="#1a1a1a" stroke-width="1.2"/>
<text x="501.18" y="295.40" font-size="8.4" text-anchor="end" fill="#1c1c1c" textLength="22.19" lengthAdjust="spacingAndGlyphs" transform="rotate(-45 501.18 295.40)">shmt2</text>
<line x1="335.70" y1="173.00" x2="335.70" y2="286.50" stroke="#1a1a1a" stroke-width="1.5"/>
<line x1="335.00" y1="285.80" x2="503.20" y2="285.80" stroke="#1a1a1a" stroke-width="1.6"/>
<line x1="339.40" y1="187.40" x2="490.00" y2="187.40" stroke="#1a1a1a" stroke-width="1.5"/>
<text x="414.80" y="187.90" font-size="9.5" text-anchor="middle" font-weight="bold" fill="#231a26" textLength="14.05" lengthAdjust="spacingAndGlyphs">****</text>
<text x="497.60" y="275.90" font-size="8.2" text-anchor="middle" fill="#333" textLength="10.40" lengthAdjust="spacingAndGlyphs">NS</text>
<rect x="482.80" y="193.60" width="10.60" height="4.20" fill="#25427a"/>
<text x="495.40" y="199.30" font-size="8.2" text-anchor="start" fill="#333" textLength="12.00" lengthAdjust="spacingAndGlyphs">WT</text>
<rect x="482.80" y="205.60" width="10.60" height="4.20" fill="#a00829"/>
<text x="495.60" y="211.20" font-size="8.2" text-anchor="start" fill="#333" textLength="11.60" lengthAdjust="spacingAndGlyphs">KO</text>
<text x="7.50" y="411.80" font-size="12.4" text-anchor="start" font-weight="bold" fill="#000" textLength="8.60" lengthAdjust="spacingAndGlyphs" stroke="#000" stroke-width="0.4">D</text>
<text x="63.50" y="417.20" font-size="8.3" text-anchor="middle" fill="#2e2e2e" textLength="12.70" lengthAdjust="spacingAndGlyphs">Ctrl</text>
<text x="98.00" y="416.60" font-size="8.3" text-anchor="middle" fill="#2e2e2e" textLength="25.60" lengthAdjust="spacingAndGlyphs">glycine</text>
<text x="128.50" y="416.60" font-size="8.3" text-anchor="middle" fill="#2e2e2e" textLength="22.30" lengthAdjust="spacingAndGlyphs">serine</text>
<line x1="51.40" y1="422.60" x2="75.50" y2="422.60" stroke="#1a1a1a" stroke-width="1.2"/>
<line x1="85.20" y1="422.60" x2="111.90" y2="422.60" stroke="#1a1a1a" stroke-width="1.2"/>
<line x1="117.30" y1="422.60" x2="140.40" y2="422.60" stroke="#1a1a1a" stroke-width="1.2"/>
<text x="25.00" y="433.10" font-size="8.3" text-anchor="start" fill="#2e2e2e" textLength="12.70" lengthAdjust="spacingAndGlyphs">WT</text>
<text x="25.40" y="443.30" font-size="8.3" text-anchor="start" fill="#2e2e2e" textLength="12.30" lengthAdjust="spacingAndGlyphs">KO</text>
<text x="55.40" y="432.80" font-size="7.8" text-anchor="middle" stroke="#222" stroke-width="0.3">+</text>
<text x="55.40" y="443.20" font-size="7.8" text-anchor="middle" stroke="#222" stroke-width="0.3">-</text>
<text x="71.50" y="432.80" font-size="7.8" text-anchor="middle" stroke="#222" stroke-width="0.3">-</text>
<text x="71.50" y="443.20" font-size="7.8" text-anchor="middle" stroke="#222" stroke-width="0.3">+</text>
<text x="89.00" y="432.80" font-size="7.8" text-anchor="middle" stroke="#222" stroke-width="0.3">+</text>
<text x="89.00" y="443.20" font-size="7.8" text-anchor="middle" stroke="#222" stroke-width="0.3">-</text>
<text x="106.00" y="432.80" font-size="7.8" text-anchor="middle" stroke="#222" stroke-width="0.3">-</text>
<text x="106.00" y="443.20" font-size="7.8" text-anchor="middle" stroke="#222" stroke-width="0.3">+</text>
<text x="122.10" y="432.80" font-size="7.8" text-anchor="middle" stroke="#222" stroke-width="0.3">+</text>
<text x="122.10" y="443.20" font-size="7.8" text-anchor="middle" stroke="#222" stroke-width="0.3">-</text>
<text x="137.50" y="432.80" font-size="7.8" text-anchor="middle" stroke="#222" stroke-width="0.3">-</text>
<text x="137.50" y="443.20" font-size="7.8" text-anchor="middle" stroke="#222" stroke-width="0.3">+</text>
<text x="14.80" y="458.60" font-size="8.3" text-anchor="start" fill="#2e2e2e" textLength="22.20" lengthAdjust="spacingAndGlyphs">62 kD</text>
<line x1="39.10" y1="456.30" x2="42.30" y2="456.30" stroke="#1a1a1a" stroke-width="1.3"/>
<text x="14.80" y="484.00" font-size="8.3" text-anchor="start" fill="#2e2e2e" textLength="22.20" lengthAdjust="spacingAndGlyphs">62 kD</text>
<line x1="39.10" y1="481.70" x2="42.30" y2="481.70" stroke="#1a1a1a" stroke-width="1.3"/>
<text x="14.80" y="508.30" font-size="8.3" text-anchor="start" fill="#2e2e2e" textLength="22.20" lengthAdjust="spacingAndGlyphs">37 kD</text>
<line x1="39.10" y1="506.00" x2="42.30" y2="506.00" stroke="#1a1a1a" stroke-width="1.3"/>
<defs><filter id="bl" x="-20%" y="-100%" width="140%" height="300%"><feGaussianBlur stdDeviation="0.45"/></filter><filter id="bl2" x="-20%" y="-100%" width="140%" height="300%"><feGaussianBlur stdDeviation="0.8"/></filter></defs>
<rect x="44.30" y="477.40" width="99.40" height="19.20" fill="#d6d6d6"/>
<rect x="44.30" y="499.40" width="99.40" height="22.20" fill="#e6e6e6"/>
<rect x="44.30" y="512.80" width="35.00" height="8.80" fill="#cdcdcd"/>
<rect x="79.30" y="513.50" width="64.40" height="8.10" fill="#d9d9d9"/>
<rect x="44.6" y="460.95" width="15.2" height="1.70" rx="0.85" fill="#222" opacity="1" filter="url(#bl)"/>
<rect x="62.5" y="460.90" width="14.3" height="3.00" rx="1.50" fill="#151515" opacity="1" filter="url(#bl)"/>
<rect x="81.5" y="461.80" width="11.0" height="1.00" rx="0.50" fill="#c8c8c8" opacity="1" filter="url(#bl)"/>
<rect x="100.4" y="461.00" width="9.8" height="1.20" rx="0.60" fill="#777" opacity="1" filter="url(#bl)"/>
<rect x="113.7" y="461.05" width="13.2" height="1.90" rx="0.95" fill="#222" opacity="1" filter="url(#bl)"/>
<rect x="128.7" y="460.15" width="14.1" height="2.10" rx="1.05" fill="#1a1a1a" opacity="1" filter="url(#bl)"/>
<rect x="47.2" y="485.45" width="13.6" height="4.30" rx="2.15" fill="#151515" opacity="1" filter="url(#bl)"/>
<rect x="63.1" y="485.45" width="13.8" height="4.30" rx="2.15" fill="#151515" opacity="1" filter="url(#bl)"/>
<rect x="79.8" y="484.25" width="14.8" height="4.30" rx="2.15" fill="#151515" opacity="1" filter="url(#bl)"/>
<rect x="96.3" y="484.00" width="8.1" height="3.60" rx="1.80" fill="#151515" opacity="1" filter="url(#bl)"/>
<rect x="106.5" y="484.80" width="1.8" height="2.20" rx="1.10" fill="#151515" opacity="1" filter="url(#bl)"/>
<rect x="111.3" y="483.60" width="13.3" height="3.80" rx="1.90" fill="#151515" opacity="1" filter="url(#bl)"/>
<rect x="128.0" y="483.40" width="12.8" height="3.00" rx="1.50" fill="#151515" opacity="1" filter="url(#bl)"/>
<rect x="129.8" y="494.90" width="9.8" height="0.80" rx="0.40" fill="#999" opacity="1" filter="url(#bl)"/>
<rect x="47.3" y="507.30" width="11.9" height="4.60" rx="2.30" fill="#2c2c2c" opacity="1" filter="url(#bl2)"/>
<rect x="59.9" y="508.40" width="1.8" height="2.40" rx="1.20" fill="#444" opacity="1" filter="url(#bl)"/>
<rect x="63.7" y="506.80" width="14.9" height="5.60" rx="2.80" fill="#1e1e1e" opacity="1" filter="url(#bl2)"/>
<rect x="79.6" y="505.80" width="63.4" height="6.00" rx="3.00" fill="#141414" opacity="1" filter="url(#bl2)"/>
<rect x="128.7" y="504.80" width="13.9" height="6.80" rx="3.40" fill="#141414" opacity="1" filter="url(#bl2)"/>
<line x1="79.20" y1="449.80" x2="79.20" y2="522.40" stroke="#111" stroke-width="1.3"/>
<line x1="141.00" y1="460.50" x2="154.00" y2="460.50" stroke="#1a1a1a" stroke-width="1.2"/>
<line x1="139.50" y1="484.10" x2="154.00" y2="484.10" stroke="#1a1a1a" stroke-width="1.2"/>
<line x1="141.00" y1="508.20" x2="154.00" y2="508.20" stroke="#1a1a1a" stroke-width="1.2"/>
<text x="157.10" y="463.00" font-size="8.3" text-anchor="start" fill="#2e2e2e" textLength="50.60" lengthAdjust="spacingAndGlyphs">pT172-AMPK</text>
<text x="157.70" y="486.10" font-size="8.3" text-anchor="start" fill="#2e2e2e" textLength="22.30" lengthAdjust="spacingAndGlyphs">AMPK</text>
<text x="158.50" y="510.80" font-size="8.3" text-anchor="start" fill="#2e2e2e" textLength="29.00" lengthAdjust="spacingAndGlyphs">GAPDH</text>
<text x="47.00" y="531.40" font-size="7.3" text-anchor="start" fill="#333" textLength="12.80" lengthAdjust="spacingAndGlyphs">1.00</text>
<text x="64.10" y="531.40" font-size="7.3" text-anchor="start" fill="#333" textLength="12.80" lengthAdjust="spacingAndGlyphs">1.58</text>
<text x="81.10" y="531.40" font-size="7.3" text-anchor="start" fill="#333" textLength="12.80" lengthAdjust="spacingAndGlyphs">0.07</text>
<text x="98.10" y="531.40" font-size="7.3" text-anchor="start" fill="#333" textLength="12.80" lengthAdjust="spacingAndGlyphs">0.28</text>
<text x="115.40" y="531.40" font-size="7.3" text-anchor="start" fill="#333" textLength="12.80" lengthAdjust="spacingAndGlyphs">0.86</text>
<text x="132.40" y="531.40" font-size="7.3" text-anchor="start" fill="#333" textLength="12.80" lengthAdjust="spacingAndGlyphs">1.40</text>
<text x="232.10" y="411.80" font-size="12.4" text-anchor="start" font-weight="bold" fill="#000" textLength="6.70" lengthAdjust="spacingAndGlyphs" stroke="#000" stroke-width="0.4">E</text>
<text x="239.30" y="462.80" font-size="10.2" fill="#333" text-anchor="middle" textLength="64" lengthAdjust="spacingAndGlyphs" transform="rotate(-90 239.30 462.80)">Cell number (10<tspan font-size="6.4" dy="-3.4">5</tspan><tspan dy="3.4">)</tspan></text>
<line x1="258.00" y1="425.90" x2="261.00" y2="425.90" stroke="#2a2a2a" stroke-width="1.3"/>
<text x="254.70" y="429.00" font-size="8.6" text-anchor="end" fill="#333" textLength="8.42" lengthAdjust="spacingAndGlyphs">10</text>
<line x1="258.00" y1="442.00" x2="261.00" y2="442.00" stroke="#2a2a2a" stroke-width="1.3"/>
<text x="254.70" y="445.10" font-size="8.6" text-anchor="end" fill="#333" textLength="4.21" lengthAdjust="spacingAndGlyphs">8</text>
<line x1="258.00" y1="457.90" x2="261.00" y2="457.90" stroke="#2a2a2a" stroke-width="1.3"/>
<text x="254.70" y="461.00" font-size="8.6" text-anchor="end" fill="#333" textLength="4.21" lengthAdjust="spacingAndGlyphs">6</text>
<line x1="258.00" y1="474.30" x2="261.00" y2="474.30" stroke="#2a2a2a" stroke-width="1.3"/>
<text x="254.70" y="477.40" font-size="8.6" text-anchor="end" fill="#333" textLength="4.21" lengthAdjust="spacingAndGlyphs">4</text>
<line x1="258.00" y1="490.20" x2="261.00" y2="490.20" stroke="#2a2a2a" stroke-width="1.3"/>
<text x="254.70" y="493.30" font-size="8.6" text-anchor="end" fill="#333" textLength="4.21" lengthAdjust="spacingAndGlyphs">2</text>
<line x1="258.00" y1="506.80" x2="261.00" y2="506.80" stroke="#2a2a2a" stroke-width="1.3"/>
<text x="254.70" y="509.90" font-size="8.6" text-anchor="end" fill="#333" textLength="4.21" lengthAdjust="spacingAndGlyphs">0</text>
<line x1="261.00" y1="506.80" x2="261.00" y2="510.40" stroke="#2a2a2a" stroke-width="1.3"/>
<text x="261.00" y="519.80" font-size="8.6" text-anchor="middle" fill="#333" textLength="4.21" lengthAdjust="spacingAndGlyphs">0</text>
<line x1="321.00" y1="506.80" x2="321.00" y2="510.40" stroke="#2a2a2a" stroke-width="1.3"/>
<text x="321.00" y="519.80" font-size="8.6" text-anchor="middle" fill="#333" textLength="4.21" lengthAdjust="spacingAndGlyphs">1</text>
<line x1="382.40" y1="506.80" x2="382.40" y2="510.40" stroke="#2a2a2a" stroke-width="1.3"/>
<text x="382.40" y="519.80" font-size="8.6" text-anchor="middle" fill="#333" textLength="4.21" lengthAdjust="spacingAndGlyphs">2</text>
<text x="323.00" y="532.20" font-size="10.2" text-anchor="middle" fill="#333" textLength="16.50" lengthAdjust="spacingAndGlyphs">Days</text>
<line x1="261.00" y1="423.30" x2="261.00" y2="507.50" stroke="#1a1a1a" stroke-width="1.5"/>
<line x1="260.30" y1="506.80" x2="384.70" y2="506.80" stroke="#1a1a1a" stroke-width="1.6"/>
<polyline points="261.00,498.71 321.00,492.24 382.40,467.16" fill="none" stroke="#b5092f" stroke-width="2" stroke-linejoin="round"/>
<circle cx="261.00" cy="498.71" r="1.3" fill="#b5092f"/>
<circle cx="321.00" cy="492.24" r="1.3" fill="#b5092f"/>
<circle cx="382.40" cy="467.16" r="1.3" fill="#b5092f"/>
<polyline points="261.00,498.71 321.00,487.38 382.40,446.12" fill="none" stroke="#8fbe6c" stroke-width="2" stroke-linejoin="round"/>
<circle cx="261.00" cy="498.71" r="1.3" fill="#8fbe6c"/>
<circle cx="321.00" cy="487.38" r="1.3" fill="#8fbe6c"/>
<circle cx="382.40" cy="446.12" r="1.3" fill="#8fbe6c"/>
<polyline points="261.00,498.71 321.00,485.77 382.40,448.55" fill="none" stroke="#6f4a84" stroke-width="2" stroke-linejoin="round"/>
<circle cx="261.00" cy="498.71" r="1.3" fill="#6f4a84"/>
<circle cx="321.00" cy="485.77" r="1.3" fill="#6f4a84"/>
<circle cx="382.40" cy="448.55" r="1.3" fill="#6f4a84"/>
<polyline points="261.00,498.71 321.00,490.62 382.40,442.65" fill="none" stroke="#2b4a80" stroke-width="2" stroke-linejoin="round"/>
<circle cx="261.00" cy="498.71" r="1.3" fill="#2b4a80"/>
<circle cx="321.00" cy="490.62" r="1.3" fill="#2b4a80"/>
<circle cx="382.40" cy="442.65" r="1.3" fill="#2b4a80"/>
<line x1="382.40" y1="464.96" x2="382.40" y2="469.36" stroke="#8a0f2a" stroke-width="1.1"/>
<line x1="380.60" y1="464.96" x2="384.20" y2="464.96" stroke="#8a0f2a" stroke-width="1.0"/>
<line x1="380.60" y1="469.36" x2="384.20" y2="469.36" stroke="#8a0f2a" stroke-width="1.0"/>
<line x1="382.40" y1="436.80" x2="382.40" y2="448.40" stroke="#243a66" stroke-width="1.6"/>
<line x1="380.40" y1="436.80" x2="384.40" y2="436.80" stroke="#243a66" stroke-width="1.2"/>
<line x1="380.40" y1="448.40" x2="384.40" y2="448.40" stroke="#243a66" stroke-width="1.2"/>
<text x="381.60" y="438.10" font-size="9.5" text-anchor="middle" font-weight="bold" fill="#231a26" textLength="8.87" lengthAdjust="spacingAndGlyphs">***</text>
<line x1="391.30" y1="432.00" x2="399.90" y2="432.00" stroke="#2b4a80" stroke-width="1.5"/>
<circle cx="395.60" cy="432.00" r="1.5" fill="#2b4a80"/>
<text x="403.30" y="434.80" font-size="8.2" text-anchor="start" fill="#333" textLength="12.37" lengthAdjust="spacingAndGlyphs">WT</text>
<line x1="391.30" y1="443.10" x2="399.90" y2="443.10" stroke="#b5092f" stroke-width="1.5"/>
<circle cx="395.60" cy="443.10" r="1.5" fill="#b5092f"/>
<text x="403.30" y="445.90" font-size="8.2" text-anchor="start" fill="#333" textLength="11.49" lengthAdjust="spacingAndGlyphs">KO</text>
<line x1="391.30" y1="454.20" x2="399.90" y2="454.20" stroke="#8fbe6c" stroke-width="1.5"/>
<circle cx="395.60" cy="454.20" r="1.5" fill="#8fbe6c"/>
<text x="403.30" y="457.00" font-size="8.2" text-anchor="start" fill="#333" textLength="38.67" lengthAdjust="spacingAndGlyphs">WT+serine</text>
<line x1="391.30" y1="465.10" x2="399.90" y2="465.10" stroke="#6f4a84" stroke-width="1.5"/>
<circle cx="395.60" cy="465.10" r="1.5" fill="#6f4a84"/>
<text x="403.30" y="467.90" font-size="8.2" text-anchor="start" fill="#333" textLength="37.80" lengthAdjust="spacingAndGlyphs">KO+serine</text>
<text x="7.50" y="556.70" font-size="12.4" text-anchor="start" font-weight="bold" fill="#000" textLength="6.30" lengthAdjust="spacingAndGlyphs" stroke="#000" stroke-width="0.4">F</text>
<text x="21.70" y="603.40" font-size="10.2" fill="#333" text-anchor="middle" textLength="64" lengthAdjust="spacingAndGlyphs" transform="rotate(-90 21.70 603.40)">Cell number (10<tspan font-size="6.4" dy="-3.4">5</tspan><tspan dy="3.4">)</tspan></text>
<line x1="39.40" y1="567.50" x2="42.40" y2="567.50" stroke="#2a2a2a" stroke-width="1.3"/>
<text x="36.10" y="570.60" font-size="8.6" text-anchor="end" fill="#333" textLength="8.42" lengthAdjust="spacingAndGlyphs">10</text>
<line x1="39.40" y1="582.80" x2="42.40" y2="582.80" stroke="#2a2a2a" stroke-width="1.3"/>
<text x="36.10" y="585.90" font-size="8.6" text-anchor="end" fill="#333" textLength="4.21" lengthAdjust="spacingAndGlyphs">8</text>
<line x1="39.40" y1="598.40" x2="42.40" y2="598.40" stroke="#2a2a2a" stroke-width="1.3"/>
<text x="36.10" y="601.50" font-size="8.6" text-anchor="end" fill="#333" textLength="4.21" lengthAdjust="spacingAndGlyphs">6</text>
<line x1="39.40" y1="613.40" x2="42.40" y2="613.40" stroke="#2a2a2a" stroke-width="1.3"/>
<text x="36.10" y="616.50" font-size="8.6" text-anchor="end" fill="#333" textLength="4.21" lengthAdjust="spacingAndGlyphs">4</text>
<line x1="39.40" y1="628.60" x2="42.40" y2="628.60" stroke="#2a2a2a" stroke-width="1.3"/>
<text x="36.10" y="631.70" font-size="8.6" text-anchor="end" fill="#333" textLength="4.21" lengthAdjust="spacingAndGlyphs">2</text>
<line x1="39.40" y1="643.90" x2="42.40" y2="643.90" stroke="#2a2a2a" stroke-width="1.3"/>
<text x="36.10" y="647.00" font-size="8.6" text-anchor="end" fill="#333" textLength="4.21" lengthAdjust="spacingAndGlyphs">0</text>
<line x1="42.40" y1="643.90" x2="42.40" y2="647.50" stroke="#2a2a2a" stroke-width="1.3"/>
<text x="42.40" y="657.80" font-size="8.6" text-anchor="middle" fill="#333" textLength="4.21" lengthAdjust="spacingAndGlyphs">0</text>
<line x1="99.50" y1="643.90" x2="99.50" y2="647.50" stroke="#2a2a2a" stroke-width="1.3"/>
<text x="99.50" y="657.80" font-size="8.6" text-anchor="middle" fill="#333" textLength="4.21" lengthAdjust="spacingAndGlyphs">1</text>
<line x1="156.70" y1="643.90" x2="156.70" y2="647.50" stroke="#2a2a2a" stroke-width="1.3"/>
<text x="156.70" y="657.80" font-size="8.6" text-anchor="middle" fill="#333" textLength="4.21" lengthAdjust="spacingAndGlyphs">2</text>
<text x="101.00" y="669.20" font-size="10.2" text-anchor="middle" fill="#333" textLength="16.50" lengthAdjust="spacingAndGlyphs">Days</text>
<line x1="42.40" y1="564.60" x2="42.40" y2="644.60" stroke="#1a1a1a" stroke-width="1.5"/>
<line x1="41.70" y1="643.90" x2="159.60" y2="643.90" stroke="#1a1a1a" stroke-width="1.6"/>
<polyline points="42.40,636.26 99.50,629.77 156.70,606.46" fill="none" stroke="#b5092f" stroke-width="2" stroke-linejoin="round"/>
<circle cx="42.40" cy="636.26" r="1.3" fill="#b5092f"/>
<circle cx="99.50" cy="629.77" r="1.3" fill="#b5092f"/>
<circle cx="156.70" cy="606.46" r="1.3" fill="#b5092f"/>
<polyline points="42.40,636.26 99.50,626.33 156.70,582.02" fill="none" stroke="#6cb043" stroke-width="2" stroke-linejoin="round"/>
<circle cx="42.40" cy="636.26" r="1.3" fill="#6cb043"/>
<circle cx="99.50" cy="626.33" r="1.3" fill="#6cb043"/>
<circle cx="156.70" cy="582.02" r="1.3" fill="#6cb043"/>
<polyline points="42.40,636.26 99.50,628.77 156.70,583.31" fill="none" stroke="#3b2a63" stroke-width="2" stroke-linejoin="round"/>
<circle cx="42.40" cy="636.26" r="1.3" fill="#3b2a63"/>
<circle cx="99.50" cy="628.77" r="1.3" fill="#3b2a63"/>
<circle cx="156.70" cy="583.31" r="1.3" fill="#3b2a63"/>
<polyline points="42.40,636.26 99.50,628.01 156.70,582.40" fill="none" stroke="#2a4270" stroke-width="2" stroke-linejoin="round"/>
<circle cx="42.40" cy="636.26" r="1.3" fill="#2a4270"/>
<circle cx="99.50" cy="628.01" r="1.3" fill="#2a4270"/>
<circle cx="156.70" cy="582.40" r="1.3" fill="#2a4270"/>
<line x1="156.70" y1="604.26" x2="156.70" y2="608.66" stroke="#8a0f2a" stroke-width="1.1"/>
<line x1="154.90" y1="604.26" x2="158.50" y2="604.26" stroke="#8a0f2a" stroke-width="1.0"/>
<line x1="154.90" y1="608.66" x2="158.50" y2="608.66" stroke="#8a0f2a" stroke-width="1.0"/>
<line x1="156.70" y1="578.20" x2="156.70" y2="588.30" stroke="#243a66" stroke-width="1.6"/>
<line x1="154.70" y1="578.20" x2="158.70" y2="578.20" stroke="#243a66" stroke-width="1.2"/>
<line x1="154.70" y1="588.30" x2="158.70" y2="588.30" stroke="#243a66" stroke-width="1.2"/>
<text x="156.80" y="579.70" font-size="9.5" text-anchor="middle" font-weight="bold" fill="#231a26" textLength="8.87" lengthAdjust="spacingAndGlyphs">***</text>
<line x1="164.50" y1="573.00" x2="173.10" y2="573.00" stroke="#2b4a80" stroke-width="1.5"/>
<circle cx="168.80" cy="573.00" r="1.5" fill="#2b4a80"/>
<text x="174.00" y="575.60" font-size="8.2" text-anchor="start" fill="#333" textLength="12.37" lengthAdjust="spacingAndGlyphs">WT</text>
<line x1="164.50" y1="582.80" x2="173.10" y2="582.80" stroke="#b5092f" stroke-width="1.5"/>
<circle cx="168.80" cy="582.80" r="1.5" fill="#b5092f"/>
<text x="174.00" y="585.60" font-size="8.2" text-anchor="start" fill="#333" textLength="11.49" lengthAdjust="spacingAndGlyphs">KO</text>
<line x1="164.50" y1="593.20" x2="173.10" y2="593.20" stroke="#6cb043" stroke-width="1.5"/>
<circle cx="168.80" cy="593.20" r="1.5" fill="#6cb043"/>
<text x="174.00" y="595.80" font-size="8.2" text-anchor="start" fill="#333" textLength="41.77" lengthAdjust="spacingAndGlyphs">WT+glycine</text>
<line x1="164.50" y1="603.60" x2="173.10" y2="603.60" stroke="#3b2a63" stroke-width="1.5"/>
<circle cx="168.80" cy="603.60" r="1.5" fill="#3b2a63"/>
<text x="174.00" y="606.30" font-size="8.2" text-anchor="start" fill="#333" textLength="40.90" lengthAdjust="spacingAndGlyphs">KO+glycine</text>
<text x="231.30" y="557.30" font-size="12.4" text-anchor="start" font-weight="bold" fill="#000" textLength="9.20" lengthAdjust="spacingAndGlyphs" stroke="#000" stroke-width="0.4">G</text>
<text x="240.30" y="615.60" font-size="10.2" text-anchor="middle" fill="#333" textLength="52.00" lengthAdjust="spacingAndGlyphs" transform="rotate(-90 240.30 615.60)">Enucleation (%)</text>
<line x1="257.50" y1="567.50" x2="260.50" y2="567.50" stroke="#2a2a2a" stroke-width="1.3"/>
<text x="254.20" y="570.60" font-size="8.6" text-anchor="end" fill="#333" textLength="8.42" lengthAdjust="spacingAndGlyphs">60</text>
<line x1="257.50" y1="599.80" x2="260.50" y2="599.80" stroke="#2a2a2a" stroke-width="1.3"/>
<text x="254.20" y="602.90" font-size="8.6" text-anchor="end" fill="#333" textLength="8.42" lengthAdjust="spacingAndGlyphs">40</text>
<line x1="257.50" y1="631.50" x2="260.50" y2="631.50" stroke="#2a2a2a" stroke-width="1.3"/>
<text x="254.20" y="634.60" font-size="8.6" text-anchor="end" fill="#333" textLength="8.42" lengthAdjust="spacingAndGlyphs">20</text>
<line x1="257.50" y1="663.80" x2="260.50" y2="663.80" stroke="#2a2a2a" stroke-width="1.3"/>
<text x="254.20" y="666.90" font-size="8.6" text-anchor="end" fill="#333" textLength="4.21" lengthAdjust="spacingAndGlyphs">0</text>
<line x1="275.80" y1="577.60" x2="275.80" y2="582.10" stroke="#1a1a1a" stroke-width="1.3"/>
<line x1="271.80" y1="577.60" x2="279.80" y2="577.60" stroke="#1a1a1a" stroke-width="1.3"/>
<rect x="269.20" y="581.60" width="13.20" height="82.20" fill="#2b4a80"/>
<line x1="275.80" y1="663.80" x2="275.80" y2="666.60" stroke="#1a1a1a" stroke-width="1.3"/>
<text x="279.40" y="673.80" font-size="8.5" text-anchor="end" fill="#1c1c1c" textLength="12.82" lengthAdjust="spacingAndGlyphs" transform="rotate(-45 279.40 673.80)">WT</text>
<line x1="298.30" y1="581.60" x2="298.30" y2="585.30" stroke="#1a1a1a" stroke-width="1.3"/>
<line x1="294.30" y1="581.60" x2="302.30" y2="581.60" stroke="#1a1a1a" stroke-width="1.3"/>
<rect x="291.70" y="584.80" width="13.20" height="79.00" fill="#5da13c"/>
<line x1="298.30" y1="663.80" x2="298.30" y2="666.60" stroke="#1a1a1a" stroke-width="1.3"/>
<text x="301.90" y="673.80" font-size="8.5" text-anchor="end" fill="#1c1c1c" textLength="43.30" lengthAdjust="spacingAndGlyphs" transform="rotate(-45 301.90 673.80)">WT+glycine</text>
<line x1="320.80" y1="583.40" x2="320.80" y2="585.30" stroke="#1a1a1a" stroke-width="1.3"/>
<line x1="316.80" y1="583.40" x2="324.80" y2="583.40" stroke="#1a1a1a" stroke-width="1.3"/>
<rect x="314.20" y="584.80" width="13.20" height="79.00" fill="#8fbe6c"/>
<line x1="320.80" y1="663.80" x2="320.80" y2="666.60" stroke="#1a1a1a" stroke-width="1.3"/>
<text x="324.40" y="673.80" font-size="8.5" text-anchor="end" fill="#1c1c1c" textLength="40.09" lengthAdjust="spacingAndGlyphs" transform="rotate(-45 324.40 673.80)">WT+serine</text>
<line x1="343.50" y1="594.90" x2="343.50" y2="599.40" stroke="#1a1a1a" stroke-width="1.3"/>
<line x1="339.50" y1="594.90" x2="347.50" y2="594.90" stroke="#1a1a1a" stroke-width="1.3"/>
<rect x="336.90" y="598.90" width="13.20" height="64.90" fill="#b5092f"/>
<line x1="343.50" y1="663.80" x2="343.50" y2="666.60" stroke="#1a1a1a" stroke-width="1.3"/>
<text x="347.10" y="673.80" font-size="8.5" text-anchor="end" fill="#1c1c1c" textLength="11.91" lengthAdjust="spacingAndGlyphs" transform="rotate(-45 347.10 673.80)">KO</text>
<line x1="366.20" y1="586.80" x2="366.20" y2="589.30" stroke="#1a1a1a" stroke-width="1.3"/>
<line x1="362.20" y1="586.80" x2="370.20" y2="586.80" stroke="#1a1a1a" stroke-width="1.3"/>
<rect x="359.60" y="588.80" width="13.20" height="75.00" fill="#4f2467"/>
<line x1="366.20" y1="663.80" x2="366.20" y2="666.60" stroke="#1a1a1a" stroke-width="1.3"/>
<text x="369.80" y="673.80" font-size="8.5" text-anchor="end" fill="#1c1c1c" textLength="42.39" lengthAdjust="spacingAndGlyphs" transform="rotate(-45 369.80 673.80)">KO+glycine</text>
<line x1="389.20" y1="588.30" x2="389.20" y2="591.10" stroke="#1a1a1a" stroke-width="1.3"/>
<line x1="385.20" y1="588.30" x2="393.20" y2="588.30" stroke="#1a1a1a" stroke-width="1.3"/>
<rect x="382.60" y="590.60" width="13.20" height="73.20" fill="#6f4a84"/>
<line x1="389.20" y1="663.80" x2="389.20" y2="666.60" stroke="#1a1a1a" stroke-width="1.3"/>
<text x="392.80" y="673.80" font-size="8.5" text-anchor="end" fill="#1c1c1c" textLength="39.18" lengthAdjust="spacingAndGlyphs" transform="rotate(-45 392.80 673.80)">KO+serine</text>
<line x1="260.50" y1="565.20" x2="260.50" y2="664.50" stroke="#1a1a1a" stroke-width="1.5"/>
<line x1="259.80" y1="663.80" x2="405.60" y2="663.80" stroke="#1a1a1a" stroke-width="1.6"/>
<line x1="275.50" y1="574.70" x2="343.80" y2="574.70" stroke="#1a1a1a" stroke-width="1.5"/>
<text x="309.50" y="576.10" font-size="9.5" text-anchor="middle" font-weight="bold" fill="#231a26" textLength="5.92" lengthAdjust="spacingAndGlyphs">**</text>
<line x1="343.80" y1="570.30" x2="392.90" y2="570.30" stroke="#1a1a1a" stroke-width="1.5"/>
<text x="368.20" y="571.30" font-size="9.5" text-anchor="middle" font-weight="bold" fill="#231a26" textLength="2.96" lengthAdjust="spacingAndGlyphs">*</text>
<line x1="340.60" y1="582.50" x2="371.20" y2="582.50" stroke="#1a1a1a" stroke-width="1.5"/>
<text x="355.40" y="583.50" font-size="9.5" text-anchor="middle" font-weight="bold" fill="#231a26" textLength="2.96" lengthAdjust="spacingAndGlyphs">*</text>
<rect x="0" y="0" width="520" height="1.15" fill="#000"/><rect x="0" y="0" width="1.25" height="710" fill="#000"/><rect x="518.65" y="0" width="1.35" height="710" fill="#000"/><rect x="0" y="708.85" width="520" height="1.15" fill="#000"/>
</svg></body></html>
